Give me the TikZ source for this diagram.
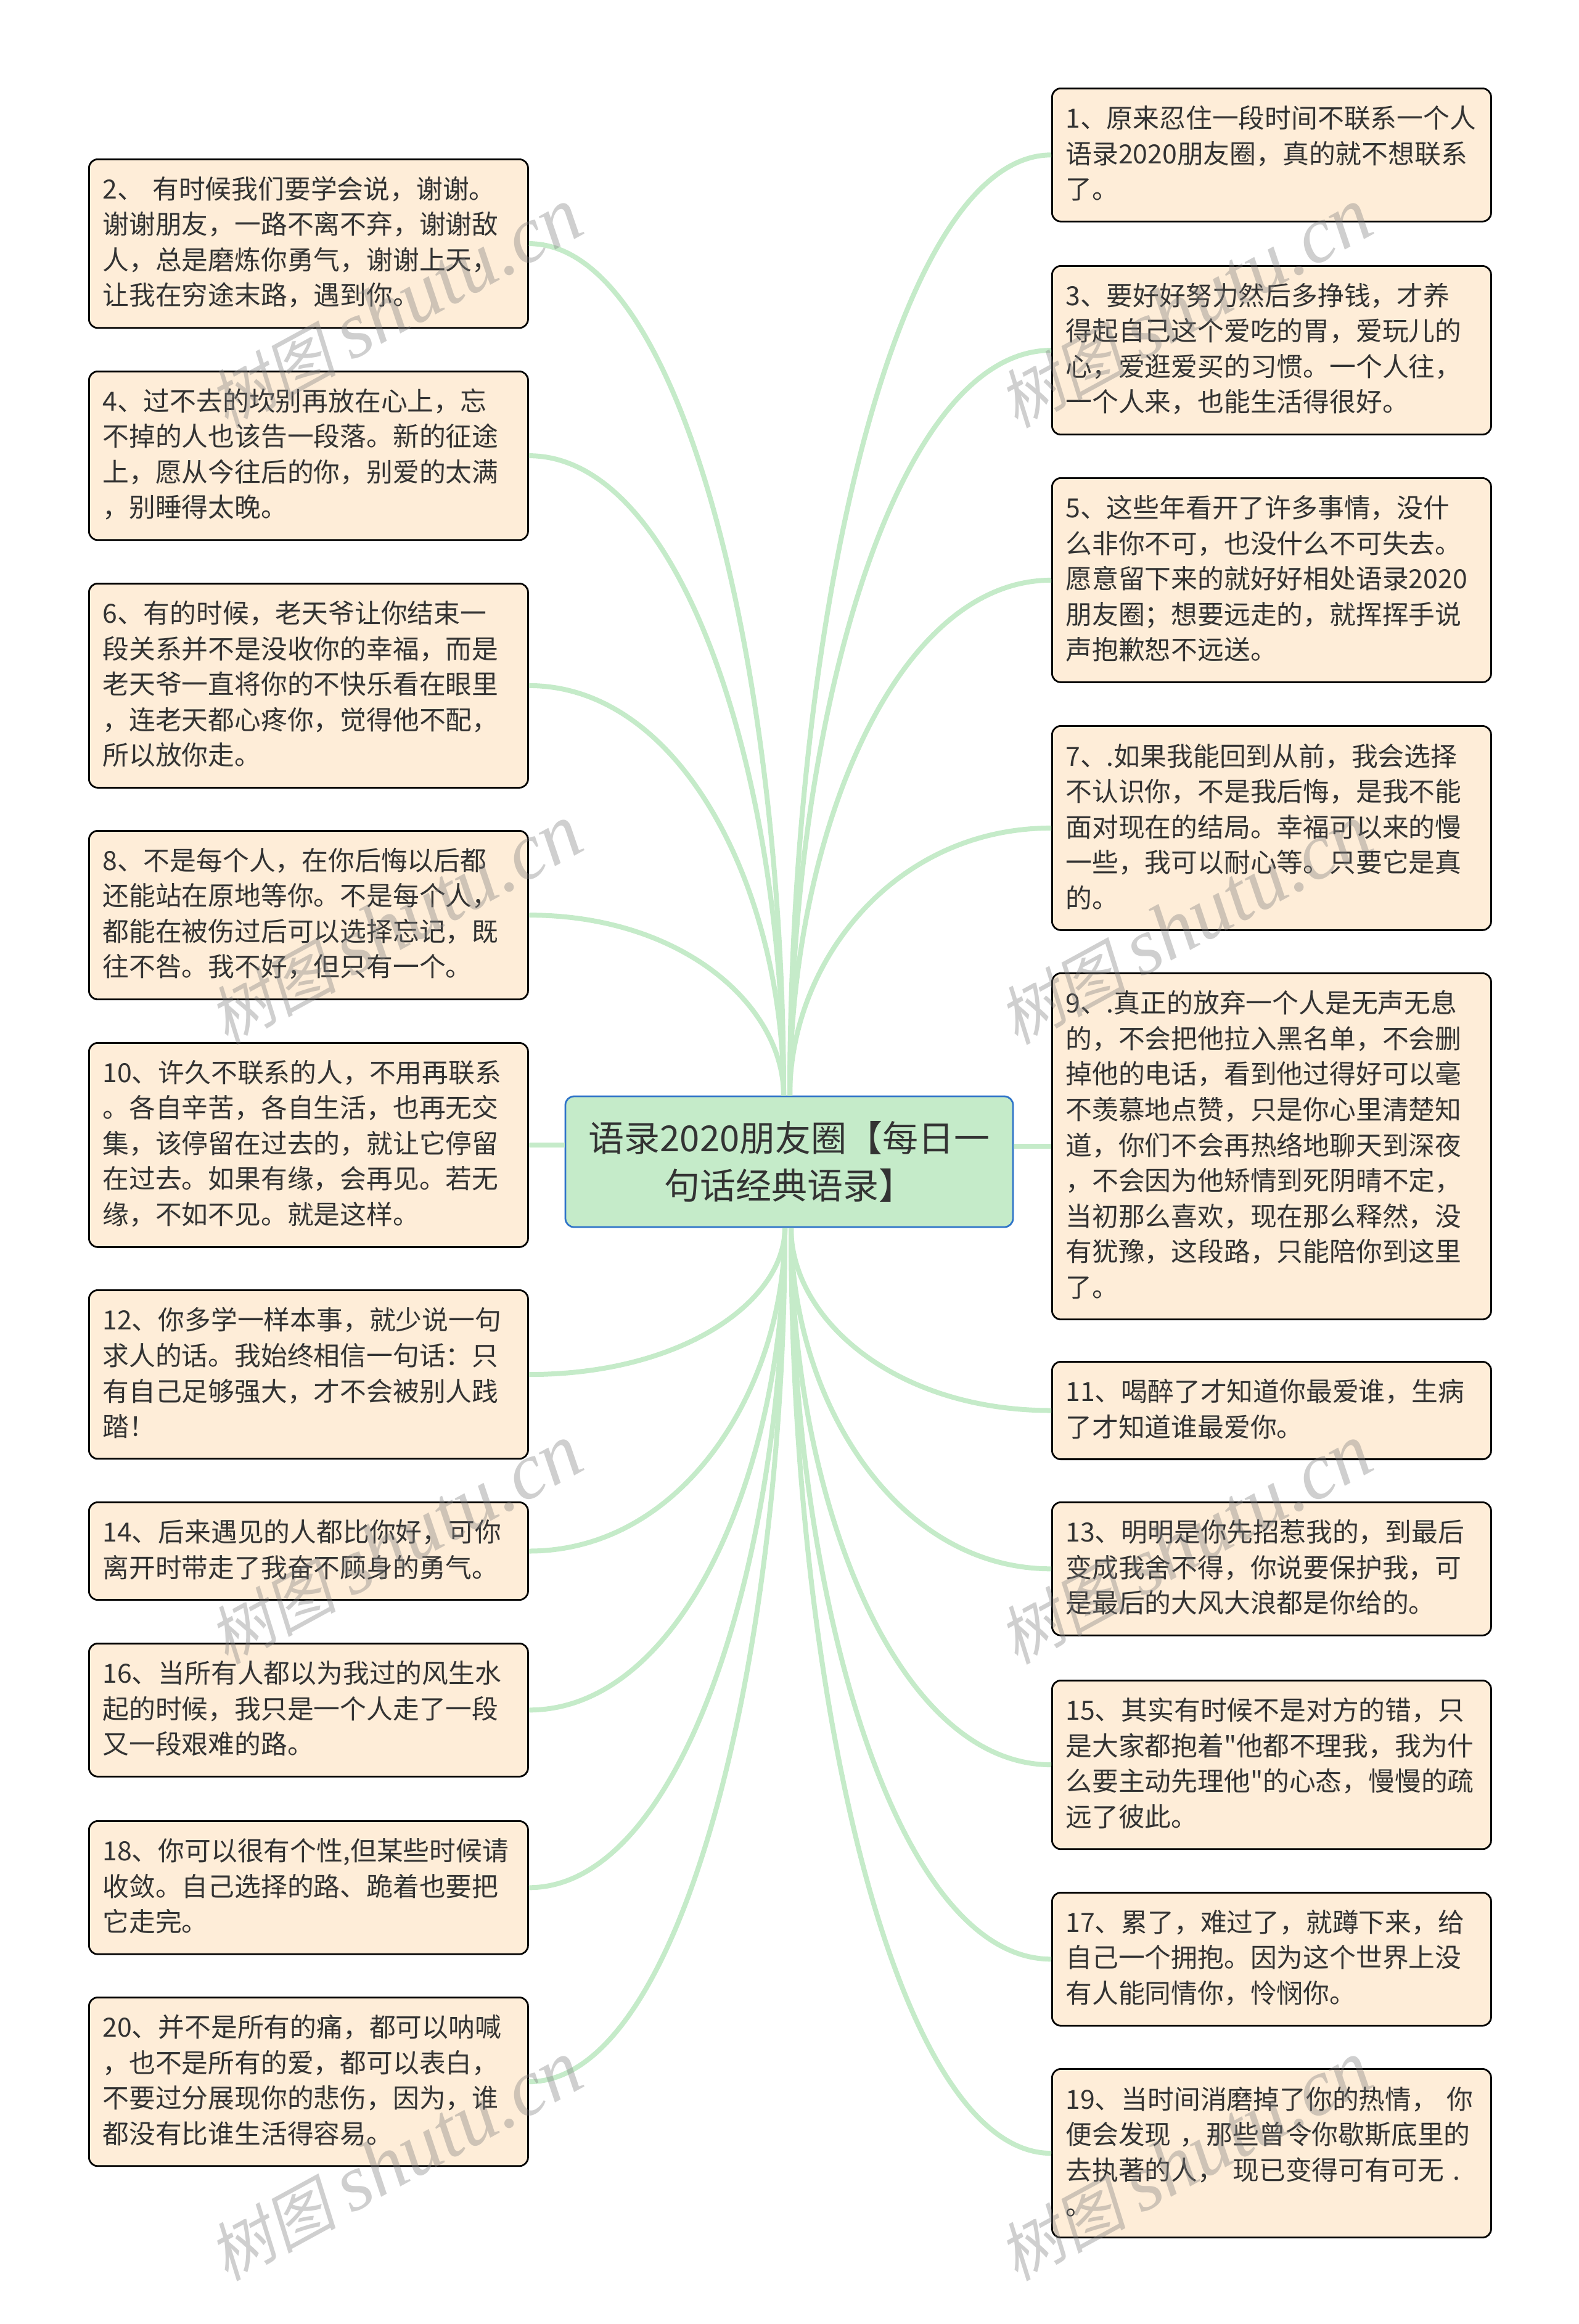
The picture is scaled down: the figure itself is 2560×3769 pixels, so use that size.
\documentclass[tikz,border=0pt]{standalone}
\usepackage{fontspec}
\setmainfont{Noto Sans CJK SC}[Ligatures=TeXOff]
\newfontfamily\markcjk[FakeSlant=0.2]{Noto Sans CJK SC}
\newfontfamily\marklatin{Liberation Serif}[ItalicFont=* Italic]
\usetikzlibrary{calc, positioning}

\definecolor{branchgreen}{HTML}{C5EBC9}
\definecolor{rootblue}{HTML}{2F74C8}
\definecolor{quotefill}{HTML}{FEEDD8}
\definecolor{quotetext}{HTML}{333333}

\tikzset{
	quotebox/.style={draw=black, fill=quotefill, text=quotetext, line width=1.4pt, rounded corners=7pt,
		anchor=north west, align=left, inner xsep=11pt, inner ysep=0pt, text width=334pt,
		minimum height={(21.5+28.8*#1)*1pt},
		execute at end node={\par\vspace{2.4pt}},
		font=\fontsize{21.4}{28.8}\selectfont},
	rootbox/.style={draw=rootblue, fill=branchgreen, text=quotetext, line width=1.4pt, rounded corners=7pt,
		align=center, inner sep=0pt, minimum width=363pt, minimum height=106pt,
		font=\fontsize{29}{38.5}\selectfont},
	branch/.style={draw=branchgreen, line width=4pt},
	shutumark/.style={text=gray, opacity=.38, rotate=28.6, inner sep=0pt}
}

\begin{document}
\begin{tikzpicture}[x=0.5pt,y=-0.5pt]
	\useasboundingbox (0,0) rectangle (2560,3769);
	\node[rootbox] (root) at (1280,1884) {语录2020朋友圈【每日一\\句话经典语录】};
	\coordinate (upleft) at ([xshift=-4.5pt]root.north);
	\coordinate (upright) at ([xshift=0.5pt]root.north);
	\coordinate (downleft) at ([xshift=-3.5pt]root.south);
	\coordinate (downright) at ([xshift=1.5pt]root.south);

	% left column
	\node[quotebox=4] (b2) at (143,257) {2、 有时候我们要学会说，谢谢。\\谢谢朋友，一路不离不弃，谢谢敌\\人，总是磨炼你勇气，谢谢上天，\\让我在穷途末路，遇到你。};
	\node[quotebox=4] (b4) at (143,601) {4、过不去的坎别再放在心上，忘\\不掉的人也该告一段落。新的征途\\上，愿从今往后的你，别爱的太满\\，别睡得太晚。};
	\node[quotebox=5] (b6) at (143,945) {6、有的时候，老天爷让你结束一\\段关系并不是没收你的幸福，而是\\老天爷一直将你的不快乐看在眼里\\，连老天都心疼你，觉得他不配，\\所以放你走。};
	\node[quotebox=4] (b8) at (143,1346) {8、不是每个人，在你后悔以后都\\还能站在原地等你。不是每个人，\\都能在被伤过后可以选择忘记，既\\往不咎。我不好，但只有一个。};
	\node[quotebox=5] (b10) at (143,1690) {10、许久不联系的人，不用再联系\\。各自辛苦，各自生活，也再无交\\集，该停留在过去的，就让它停留\\在过去。如果有缘，会再见。若无\\缘，不如不见。就是这样。};
	\node[quotebox=4] (b12) at (143,2091) {12、你多学一样本事，就少说一句\\求人的话。我始终相信一句话：只\\有自己足够强大，才不会被别人践\\踏！};
	\node[quotebox=2] (b14) at (143,2435) {14、后来遇见的人都比你好，可你\\离开时带走了我奋不顾身的勇气。};
	\node[quotebox=3] (b16) at (143,2664) {16、当所有人都以为我过的风生水\\起的时候，我只是一个人走了一段\\又一段艰难的路。};
	\node[quotebox=3] (b18) at (143,2952) {18、你可以很有个性,但某些时候请\\收敛。自己选择的路、跪着也要把\\它走完。};
	\node[quotebox=4] (b20) at (143,3238) {20、并不是所有的痛，都可以呐喊\\，也不是所有的爱，都可以表白，\\不要过分展现你的悲伤，因为，谁\\都没有比谁生活得容易。};

	% right column
	\node[quotebox=3] (b1) at (1705,142) {1、原来忍住一段时间不联系一个人\\语录2020朋友圈，真的就不想联系\\了。};
	\node[quotebox=4] (b3) at (1705,430) {3、要好好努力然后多挣钱，才养\\得起自己这个爱吃的胃，爱玩儿的\\心，爱逛爱买的习惯。一个人往，\\一个人来，也能生活得很好。};
	\node[quotebox=5] (b5) at (1705,774) {5、这些年看开了许多事情，没什\\么非你不可，也没什么不可失去。\\愿意留下来的就好好相处语录2020\\朋友圈；想要远走的，就挥挥手说\\声抱歉恕不远送。};
	\node[quotebox=5] (b7) at (1705,1176) {7、.如果我能回到从前，我会选择\\不认识你，不是我后悔，是我不能\\面对现在的结局。幸福可以来的慢\\一些，我可以耐心等。只要它是真\\的。};
	\node[quotebox=9] (b9) at (1705,1577) {9、.真正的放弃一个人是无声无息\\的，不会把他拉入黑名单，不会删\\掉他的电话，看到他过得好可以毫\\不羡慕地点赞，只是你心里清楚知\\道，你们不会再热络地聊天到深夜\\，不会因为他矫情到死阴晴不定，\\当初那么喜欢，现在那么释然，没\\有犹豫，这段路，只能陪你到这里\\了。};
	\node[quotebox=2] (b11) at (1705,2207) {11、喝醉了才知道你最爱谁，生病\\了才知道谁最爱你。};
	\node[quotebox=3] (b13) at (1705,2435) {13、明明是你先招惹我的，到最后\\变成我舍不得，你说要保护我，可\\是最后的大风大浪都是你给的。};
	\node[quotebox=4] (b15) at (1705,2724) {15、其实有时候不是对方的错，只\\是大家都抱着"他都不理我，我为什\\么要主动先理他"的心态，慢慢的疏\\远了彼此。};
	\node[quotebox=3] (b17) at (1705,3068) {17、累了，难过了，就蹲下来，给\\自己一个拥抱。因为这个世界上没\\有人能同情你，怜悯你。};
	\node[quotebox=4] (b19) at (1705,3354) {19、当时间消磨掉了你的热情， 你\\便会发现 ，那些曾令你歇斯底里的\\去执著的人， 现已变得可有可无 .\\。};

	% connectors
	\foreach \n/\a/\r in {b2/east/upleft,b4/east/upleft,b6/east/upleft,b8/east/upleft,b1/west/upright,b3/west/upright,b5/west/upright,b7/west/upright,
		b12/east/downleft,b14/east/downleft,b16/east/downleft,b18/east/downleft,b20/east/downleft,b11/west/downright,b13/west/downright,b15/west/downright,b17/west/downright,b19/west/downright}
		\draw[branch] (\n.\a) .. controls ($(\n.\a)!.6!(\n.\a -| \r)$) and ($(\r)!.5!(\r |- \n.\a)$) .. (\r);
	\draw[branch] (b10.east) -- (b10.east -| root.west);
	\draw[branch] (b9.west) -- (b9.west -| root.east);

	% watermark
	\foreach \x in {641,1922}
		\foreach \y in {500,1500,2505,3505}
			\node[shutumark] (mark\x\y) at (\x,\y) {\markcjk\fontsize{52}{60}\selectfont 树图 \marklatin\itshape\fontsize{65}{60}\selectfont shutu.cn};
\end{tikzpicture}
\end{document}
